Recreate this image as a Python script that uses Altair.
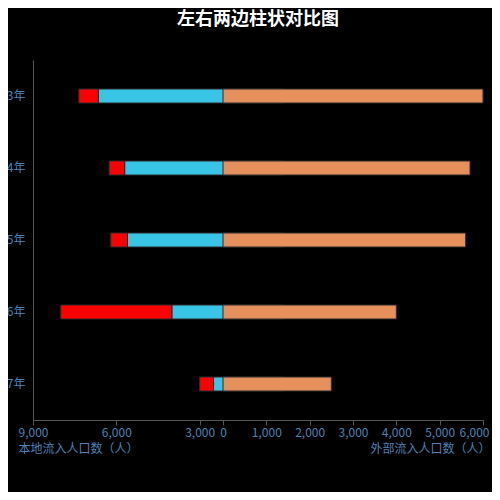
import altair as alt
import pandas as pd

years = ["2013年", "2014年", "2015年", "2016年", "2017年"]
local_cyan = [6650, 5700, 5600, 4000, 2500]
local_red = [700, 560, 600, 4000, 500]
outside = [6000, 5700, 5600, 4000, 2500]

left_ticks = [9000, 6000, 3000]
right_ticks = [0, 1000, 2000, 3000, 4000, 5000, 6000]

FONT = "Noto Sans CJK SC"
LABEL = "#4a82b4"
AXIS = "#555555"

rows = []
for y, c, r in zip(years, local_cyan, local_red):
    rows.append({"year": y, "series": "本地A", "ord": 0, "value": c})
    rows.append({"year": y, "series": "本地B", "ord": 1, "value": r})
left_df = pd.DataFrame(rows)
right_df = pd.DataFrame({"year": years, "value": outside})

yenc = alt.Y(
    "year:N",
    sort=years,
    scale=alt.Scale(paddingInner=0, paddingOuter=0),
    axis=alt.Axis(
        title=None, ticks=False, labelPadding=8, labelColor=LABEL,
        labelFontSize=12, labelFont=FONT, domainColor=AXIS, grid=False,
    ),
)

left = alt.Chart(left_df).mark_bar(size=14, stroke="#2b2b2b", strokeWidth=1).encode(
    x=alt.X(
        "value:Q",
        stack="zero",
        scale=alt.Scale(domain=[0, 9000], range=[250, 0]),
        axis=alt.Axis(
            orient="bottom", values=left_ticks, format=",.0f", grid=False,
            labelFlush=False, labelColor=LABEL, labelFontSize=12, labelFont=FONT,
            labelPadding=2, tickSize=5, tickColor=AXIS, domainColor=AXIS,
            title="本地流入人口数（人）", titleColor=LABEL, titleFont=FONT,
            titleFontSize=12, titleFontWeight="normal", titleX=-15, titleY=28,
            titleAlign="left", titleBaseline="middle", titleAnchor="start",
        ),
    ),
    y=yenc,
    color=alt.Color(
        "series:N",
        scale=alt.Scale(domain=["本地A", "本地B"], range=["#38c5e6", "#ff0000"]),
        legend=None,
    ),
    order=alt.Order("ord:Q"),
)

right = alt.Chart(right_df).mark_bar(size=14, color="#e6905c", stroke="#2b2b2b", strokeWidth=1).encode(
    x=alt.X(
        "value:Q",
        scale=alt.Scale(domain=[0, 6000], range=[190, 450]),
        axis=alt.Axis(
            orient="bottom", values=right_ticks, format=",.0f", grid=False,
            labelFlush=False, labelColor=LABEL, labelFontSize=12, labelFont=FONT,
            labelAlign=alt.condition("datum.value == 6000", alt.value("right"), alt.value("center")),
            labelOffset=alt.condition("datum.value == 6000", alt.value(6), alt.value(0)),
            labelPadding=2, tickSize=5, tickColor=AXIS, domainColor=AXIS,
            title="外部流入人口数（人）", titleColor=LABEL, titleFont=FONT,
            titleFontSize=12, titleFontWeight="normal", titleX=457, titleY=28,
            titleAlign="right", titleBaseline="middle", titleAnchor="end",
        ),
    ),
    y=yenc,
)

chart = (
    alt.layer(left, right)
    .resolve_scale(x="independent")
    .resolve_axis(x="independent")
    .properties(
        width=450,
        height=360,
        background="black",
        autosize=alt.AutoSizeParams(type="none"),
        padding={"left": 25, "top": 52, "right": 9, "bottom": 72},
        title=alt.TitleParams(
            "左右两边柱状对比图", color="white", fontSize=18, fontWeight="bold",
            font=FONT, anchor="middle", offset=31,
        ),
    )
    .configure_view(stroke=None)
)

chart.save("out.html", embed_options={"renderer": "svg", "actions": False})
